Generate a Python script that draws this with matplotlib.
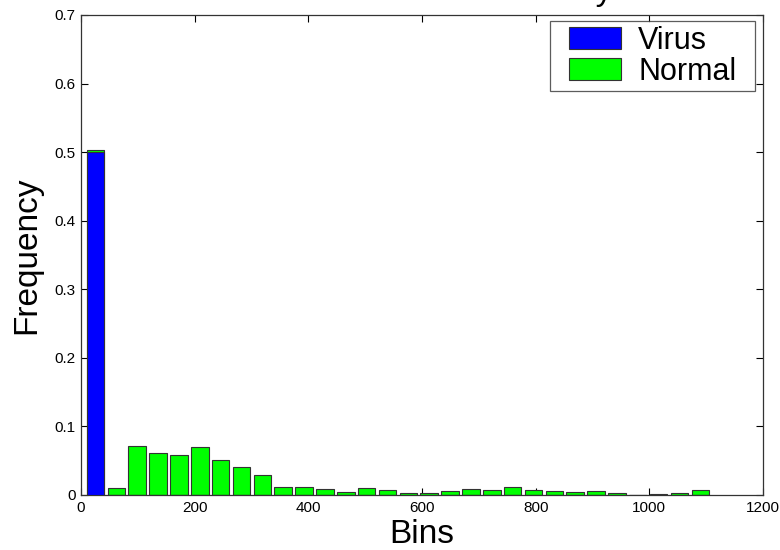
import matplotlib
matplotlib.use("Agg")
import matplotlib.pyplot as plt
from matplotlib.patches import Rectangle
from matplotlib.container import BarContainer
from matplotlib.legend_handler import HandlerPatch, update_from_first_child

plt.rcParams['font.family'] = ['Liberation Sans', 'DejaVu Sans']

bin_start = 25.5
bin_step = 36.7
n_bins = 30
bin_centers = [bin_start + bin_step * k for k in range(n_bins)]

virus = [0.500] + [0.0] * 29
normal = [0.503, 0.0102, 0.0710, 0.0608, 0.0583, 0.0695, 0.0506, 0.0404,
          0.0292, 0.0117, 0.0117, 0.0088, 0.0044, 0.0107, 0.0078, 0.0030,
          0.0030, 0.0063, 0.0088, 0.0078, 0.0112, 0.0078, 0.0063, 0.0044,
          0.0063, 0.0034, 0.0, 0.0020, 0.0030, 0.0078]

xticks = [0, 200, 400, 600, 800, 1000, 1200]
yticks = [0, 0.1, 0.2, 0.3, 0.4, 0.5, 0.6, 0.7]
ytick_labels = ['0', '0.1', '0.2', '0.3', '0.4', '0.5', '0.6', '0.7']

fig = plt.figure(figsize=(7.8, 5.5), dpi=100)
ax = fig.add_axes([81/780, 55/550, 682/780, 480/550])

width = 31
ax.bar(bin_centers, normal, width=width, color='#00ff00', edgecolor='#333333',
       linewidth=0.8, label='Normal', zorder=2)
ax.bar(bin_centers, virus, width=width, color='#0000ff', edgecolor='#333333',
       linewidth=0.8, label='Virus', zorder=3)

ax.set_xlim(0, 1200)
ax.set_ylim(0, 0.7)
ax.set_xticks(xticks)
ax.set_xticklabels([str(t) for t in xticks])
ax.set_yticks(yticks)
ax.set_yticklabels(ytick_labels)
ax.tick_params(direction='in', top=True, right=True, length=5, width=0.8,
               labelsize=11, pad=4)
for s in ax.spines.values():
    s.set_color('#333333')
    s.set_linewidth(0.9)

ax.set_xlabel('Bins', fontsize=24, labelpad=3)
ax.set_ylabel('Frequency', fontsize=24, labelpad=9)


def offset_patch(legend, orig_handle, xdescent, ydescent, width, height, fontsize):
    lead = width * 14.0 / 67.0
    return Rectangle((-xdescent + lead, -ydescent), width - lead, height)


handles, labels = ax.get_legend_handles_labels()
leg = ax.legend(handles[::-1], labels[::-1], loc='upper left', mode='expand',
                bbox_to_anchor=(550/780, 461/550, 205/780, 68/550),
                bbox_transform=fig.transFigure,
                fontsize=22, frameon=True, fancybox=False, edgecolor='#333333',
                handlelength=67/30.6, handleheight=0.72, borderpad=0.15,
                labelspacing=0.03, handletextpad=0.55, borderaxespad=0,
                handler_map={BarContainer: HandlerPatch(
                    patch_func=offset_patch,
                    update_func=update_from_first_child)})
leg.get_frame().set_linewidth(0.9)

fig.text(612/780, 1.0, 'Virus vs Normal Similarity', ha='right',
         va='baseline', fontsize=24)

fig.savefig('out.png', dpi=100)
